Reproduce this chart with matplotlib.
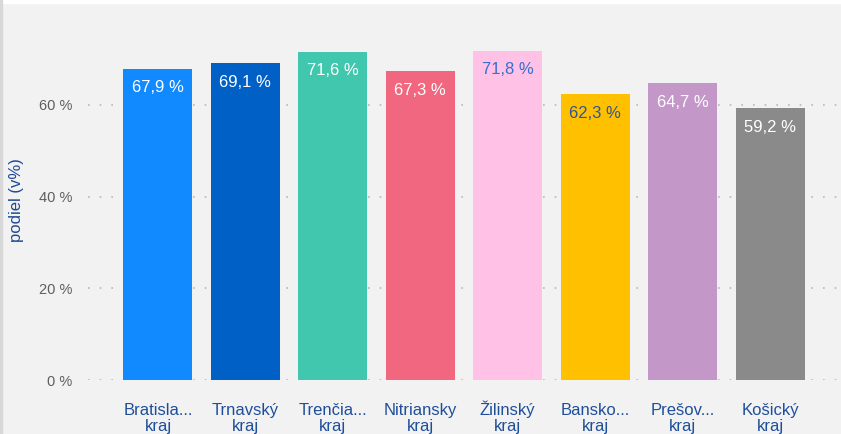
import matplotlib
matplotlib.use('Agg')
from matplotlib import pyplot as plt
import matplotlib.patches as mpatches

# data
kraje   = ['Bratisla...\nkraj', 'Trnavský\nkraj', 'Trenčia...\nkraj', 'Nitriansky\nkraj',
           'Žilinský\nkraj', 'Bansko...\nkraj', 'Prešov...\nkraj', 'Košický\nkraj']
podiel  = [67.9, 69.1, 71.6, 67.3, 71.8, 62.3, 64.7, 59.2]
farby   = ['#1189FF', '#0060C6', '#41C7AD', '#F0677F', '#FFC1E5', '#FFC000', '#C497C9', '#8A8A8A']
txtfarby= ['white', 'white', 'white', 'white', '#3570CF', '#2F5597', 'white', 'white']
yticks  = [0, 20, 40, 60]

plt.rcParams['font.family'] = ['Liberation Sans', 'DejaVu Sans']

fig = plt.figure(figsize=(8.41, 4.34), dpi=100, facecolor='#f2f2f2')
ax  = fig.add_axes([88/841, 1-380/434, 752/841, 367/434])
ax.set_facecolor('#f2f2f2')

# white strip on top + thin left border
fig.patches.append(mpatches.Rectangle((0, 1-3/434), 1, 3/434, transform=fig.transFigure,
                                      color='white', zorder=0))
fig.patches.append(mpatches.Rectangle((0, 0), 1.5/841, 1, transform=fig.transFigure,
                                      color='#d8d8d8', zorder=0))

x = range(len(kraje))
ax.bar(x, podiel, width=0.79, color=farby, zorder=3)
for i, v in enumerate(podiel):
    ax.annotate('{:.1f} %'.format(v).replace('.', ','), (i, v), xytext=(0, -19),
                textcoords='offset pixels', ha='center', va='center',
                color=txtfarby[i], fontsize=12, zorder=4)

ax.set_xlim(-0.8, 7.8)
ax.set_ylim(0, 80)
ax.set_yticks(yticks)
ax.set_yticklabels(['{} %'.format(t) for t in yticks], color='#605E5C', fontsize=10.5)
ax.set_xticks(list(x))
ax.set_xticklabels([])
# category labels (baseline of the last line is used for alignment)
for i, k in enumerate(kraje):
    ax.annotate(k, (i, 0), xycoords=('data', 'axes fraction'), xytext=(0, -51),
                textcoords='offset pixels', ha='center', va='baseline',
                color='#1F4E9A', fontsize=12, linespacing=1.06, annotation_clip=False)
ax.tick_params(length=0, axis='y', pad=11.5)
ax.tick_params(length=0, axis='x')
ax.yaxis.grid(True, ls=(0, (1, 6)), color='#b8b8b8', lw=1.2, zorder=0)
for s in ax.spines.values():
    s.set_visible(False)
ax.set_ylabel('podiel (v%)', color='#1F4A94', fontsize=12)
ax.yaxis.set_label_coords((24 - 88)/752, 0.49)

fig.savefig('out.png', dpi=100, facecolor=fig.get_facecolor())
